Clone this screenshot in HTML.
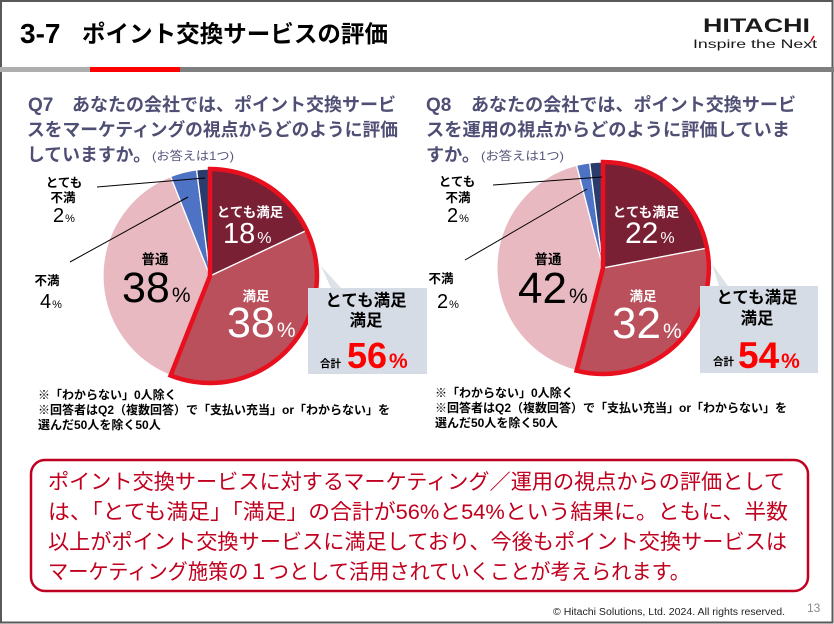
<!DOCTYPE html>
<html>
<head>
<meta charset="utf-8">
<style>
  html,body{margin:0;padding:0;background:#fff;}
  body{width:834px;height:624px;overflow:hidden;}
  svg{display:block;}
  .jp{font-family:"Liberation Sans","Noto Sans CJK JP",sans-serif;}
  .num{font-family:"Liberation Sans",sans-serif;}
</style>
</head>
<body>
<svg width="834" height="624" viewBox="0 0 834 624" xmlns="http://www.w3.org/2000/svg">
  <!-- slide background & border -->
  <rect x="0" y="0" width="834" height="624" fill="#ffffff"/>
  <rect x="1" y="1" width="831.5" height="621.5" fill="none" stroke="#595959" stroke-width="2"/>

  <!-- title -->
  <text x="20" y="43" class="num" font-size="28" font-weight="700" fill="#000">3-7</text>
  <text x="82" y="42" class="jp" font-size="23.5" font-weight="700" fill="#000" textLength="306" lengthAdjust="spacingAndGlyphs">ポイント交換サービスの評価</text>

  <!-- HITACHI logo -->
  <text x="703" y="32" class="num" font-size="19.5" font-weight="700" fill="#1a1a1a" textLength="107" lengthAdjust="spacingAndGlyphs">HITACHI</text>
  <text x="693" y="48" class="num" font-size="12" fill="#1a1a1a" textLength="124" lengthAdjust="spacingAndGlyphs">Inspire the Next</text>
  <line x1="811" y1="41" x2="814" y2="36" stroke="#e60012" stroke-width="1.5"/>

  <!-- header bar -->
  <rect x="0" y="67" width="90" height="5" fill="#aeaeae"/>
  <rect x="90" y="67" width="90" height="5" fill="#ff0000"/>
  <rect x="180" y="67" width="654" height="5" fill="#7f7f7f"/>

  <!-- Q7 question -->
  <g class="jp" fill="#4f4f75" font-weight="700">
    <text x="28" y="111" font-size="19" class="num">Q7</text>
    <text x="72" y="111" font-size="18" textLength="324" lengthAdjust="spacingAndGlyphs">あなたの会社では、ポイント交換サービ</text>
    <text x="27" y="136" font-size="18" textLength="371" lengthAdjust="spacingAndGlyphs">スをマーケティングの視点からどのように評価</text>
    <text x="27" y="161" font-size="18" textLength="124" lengthAdjust="spacingAndGlyphs">していますか。</text>
  </g>
  <text x="152" y="160" class="jp" font-size="12" fill="#55557a" textLength="82" lengthAdjust="spacingAndGlyphs">(お答えは1つ)</text>

  <!-- Q8 question -->
  <g class="jp" fill="#4f4f75" font-weight="700">
    <text x="426" y="111" font-size="19" class="num">Q8</text>
    <text x="471" y="111" font-size="18" textLength="325" lengthAdjust="spacingAndGlyphs">あなたの会社では、ポイント交換サービ</text>
    <text x="426" y="136" font-size="18" textLength="364" lengthAdjust="spacingAndGlyphs">スを運用の視点からどのように評価していま</text>
    <text x="426" y="161" font-size="18" textLength="54" lengthAdjust="spacingAndGlyphs">すか。</text>
  </g>
  <text x="481" y="160" class="jp" font-size="12" fill="#55557a" textLength="83" lengthAdjust="spacingAndGlyphs">(お答えは1つ)</text>

  <!-- ============ LEFT PIE ============ -->
  <g stroke="#ffffff" stroke-width="1.3" stroke-linejoin="round">
    <path d="M210,276 L210,169 A107,107 0 0 1 306.8,230.4 Z" fill="#7a2035"/>
    <path d="M210,276 L306.8,230.4 A107,107 0 0 1 170.6,375.5 Z" fill="#b9505b"/>
    <path d="M210,276 L170.6,375.5 A107,107 0 0 1 170.6,176.5 Z" fill="#e8b9c1"/>
    <path d="M210,276 L170.6,176.5 A107,107 0 0 1 196.6,169.8 Z" fill="#4e72c4"/>
    <path d="M210,276 L196.6,169.8 A107,107 0 0 1 210,169 Z" fill="#2a3c6c"/>
  </g>
  <path d="M210,169 A107,107 0 1 1 170.6,375.5 L210,276 Z" fill="none" stroke="#e8101e" stroke-width="4.5" stroke-linejoin="miter"/>

  <!-- leader lines left -->
  <line x1="97" y1="187" x2="205" y2="178" stroke="#000" stroke-width="1"/>
  <line x1="70" y1="262" x2="188" y2="197" stroke="#000" stroke-width="1"/>

  <!-- left pie labels -->
  <g class="jp" font-weight="700" text-anchor="middle">
    <text x="250" y="217" font-size="13.5" fill="#fff">とても満足</text>
    <text x="256" y="301" font-size="13.5" fill="#fff">満足</text>
    <text x="155" y="264" font-size="13.5" fill="#000">普通</text>
  </g>
  <text x="223" y="243" class="num" font-size="29" fill="#fff">18<tspan font-size="16" dx="2">%</tspan></text>
  <text x="227" y="337" class="num" font-size="43" fill="#fff">38<tspan font-size="21" dx="2">%</tspan></text>
  <text x="122" y="302" class="num" font-size="43" fill="#000">38<tspan font-size="21" dx="2">%</tspan></text>

  <g class="jp" font-weight="700" font-size="12.5" fill="#000" text-anchor="middle">
    <text x="64" y="187">とても</text>
    <text x="63" y="202">不満</text>
    <text x="47" y="285">不満</text>
  </g>
  <text x="53" y="222" class="num" font-size="20" fill="#000">2<tspan font-size="11" dx="1">%</tspan></text>
  <text x="40" y="308" class="num" font-size="20" fill="#000">4<tspan font-size="11" dx="1">%</tspan></text>

  <!-- left callout -->
  <polygon points="321,266 331,288 341,288" fill="#dde1e8"/>
  <rect x="308" y="288" width="119" height="86" fill="#d6dce5"/>
  <g class="jp" font-weight="700" fill="#000" text-anchor="middle">
    <text x="366" y="306" font-size="16.5">とても満足</text>
    <text x="366" y="326" font-size="16.5">満足</text>
  </g>
  <text x="320" y="367" class="jp" font-size="10.5" font-weight="700" fill="#000">合計</text>
  <text x="347" y="368" class="num" font-size="36" font-weight="700" fill="#ff0000">56<tspan font-size="21" dx="2">%</tspan></text>

  <!-- left notes -->
  <g class="jp" font-weight="700" font-size="12" fill="#000">
    <text x="38" y="399">※「わからない」0人除く</text>
    <text x="38" y="414" textLength="352" lengthAdjust="spacingAndGlyphs">※回答者はQ2（複数回答）で「支払い充当」or「わからない」を</text>
    <text x="38" y="429">選んだ50人を除く50人</text>
  </g>

  <!-- ============ RIGHT PIE ============ -->
  <g stroke="#ffffff" stroke-width="1.3" stroke-linejoin="round">
    <path d="M603,268 L603,162 A106,106 0 0 1 707.1,248.1 Z" fill="#7a2035"/>
    <path d="M603,268 L707.1,248.1 A106,106 0 0 1 576.6,370.7 Z" fill="#b9505b"/>
    <path d="M603,268 L576.6,370.7 A106,106 0 0 1 576.6,165.3 Z" fill="#e8b9c1"/>
    <path d="M603,268 L576.6,165.3 A106,106 0 0 1 589.7,162.8 Z" fill="#4e72c4"/>
    <path d="M603,268 L589.7,162.8 A106,106 0 0 1 603,162 Z" fill="#2a3c6c"/>
  </g>
  <path d="M603,162 A106,106 0 1 1 576.6,370.7 L603,268 Z" fill="none" stroke="#e8101e" stroke-width="4.5" stroke-linejoin="miter"/>

  <!-- leader lines right -->
  <line x1="493" y1="185" x2="602" y2="177" stroke="#000" stroke-width="1"/>
  <line x1="465" y1="260" x2="587" y2="189" stroke="#000" stroke-width="1"/>

  <g class="jp" font-weight="700" text-anchor="middle">
    <text x="646" y="217" font-size="13.5" fill="#fff">とても満足</text>
    <text x="643" y="301" font-size="13.5" fill="#fff">満足</text>
    <text x="548" y="264" font-size="13.5" fill="#000">普通</text>
  </g>
  <text x="625" y="243" class="num" font-size="30" fill="#fff">22<tspan font-size="16" dx="2">%</tspan></text>
  <text x="612" y="338" class="num" font-size="44" fill="#fff">32<tspan font-size="21" dx="2">%</tspan></text>
  <text x="518" y="303" class="num" font-size="44" fill="#000">42<tspan font-size="21" dx="2">%</tspan></text>

  <g class="jp" font-weight="700" font-size="12.5" fill="#000" text-anchor="middle">
    <text x="457" y="186">とても</text>
    <text x="458" y="202">不満</text>
    <text x="441" y="283">不満</text>
  </g>
  <text x="447" y="222" class="num" font-size="20" fill="#000">2<tspan font-size="11" dx="1">%</tspan></text>
  <text x="437" y="308" class="num" font-size="20" fill="#000">2<tspan font-size="11" dx="1">%</tspan></text>

  <!-- right callout -->
  <polygon points="712,264 719,286 728,286" fill="#dde1e8"/>
  <rect x="700" y="286" width="118" height="87" fill="#d6dce5"/>
  <g class="jp" font-weight="700" fill="#000" text-anchor="middle">
    <text x="757" y="303" font-size="16.5">とても満足</text>
    <text x="757" y="324" font-size="16.5">満足</text>
  </g>
  <text x="713" y="365" class="jp" font-size="10.5" font-weight="700" fill="#000">合計</text>
  <text x="738" y="368" class="num" font-size="37" font-weight="700" fill="#ff0000">54<tspan font-size="21" dx="2">%</tspan></text>

  <!-- right notes -->
  <g class="jp" font-weight="700" font-size="12" fill="#000">
    <text x="435" y="397">※「わからない」0人除く</text>
    <text x="435" y="412" textLength="352" lengthAdjust="spacingAndGlyphs">※回答者はQ2（複数回答）で「支払い充当」or「わからない」を</text>
    <text x="435" y="427">選んだ50人を除く50人</text>
  </g>

  <!-- ============ SUMMARY BOX ============ -->
  <rect x="31" y="460" width="777" height="131" rx="14" ry="14" fill="#fff" stroke="#c00020" stroke-width="2.5"/>
  <g class="jp" font-size="21" fill="#c0001e">
    <text x="48" y="489" textLength="737" lengthAdjust="spacingAndGlyphs">ポイント交換サービスに対するマーケティング／運用の視点からの評価として</text>
    <text x="48" y="519" textLength="740" lengthAdjust="spacingAndGlyphs">は、「とても満足」「満足」の合計が56%と54%という結果に。ともに、半数</text>
    <text x="48" y="549" textLength="739" lengthAdjust="spacingAndGlyphs">以上がポイント交換サービスに満足しており、今後もポイント交換サービスは</text>
    <text x="48" y="579" textLength="642" lengthAdjust="spacingAndGlyphs">マーケティング施策の１つとして活用されていくことが考えられます。</text>
  </g>

  <!-- footer -->
  <text x="553" y="615" class="num" font-size="10" fill="#222" textLength="232" lengthAdjust="spacingAndGlyphs">© Hitachi Solutions, Ltd. 2024. All rights reserved.</text>
  <text x="807" y="612" class="num" font-size="12" fill="#8a8a8a">13</text>
</svg>
</body>
</html>
